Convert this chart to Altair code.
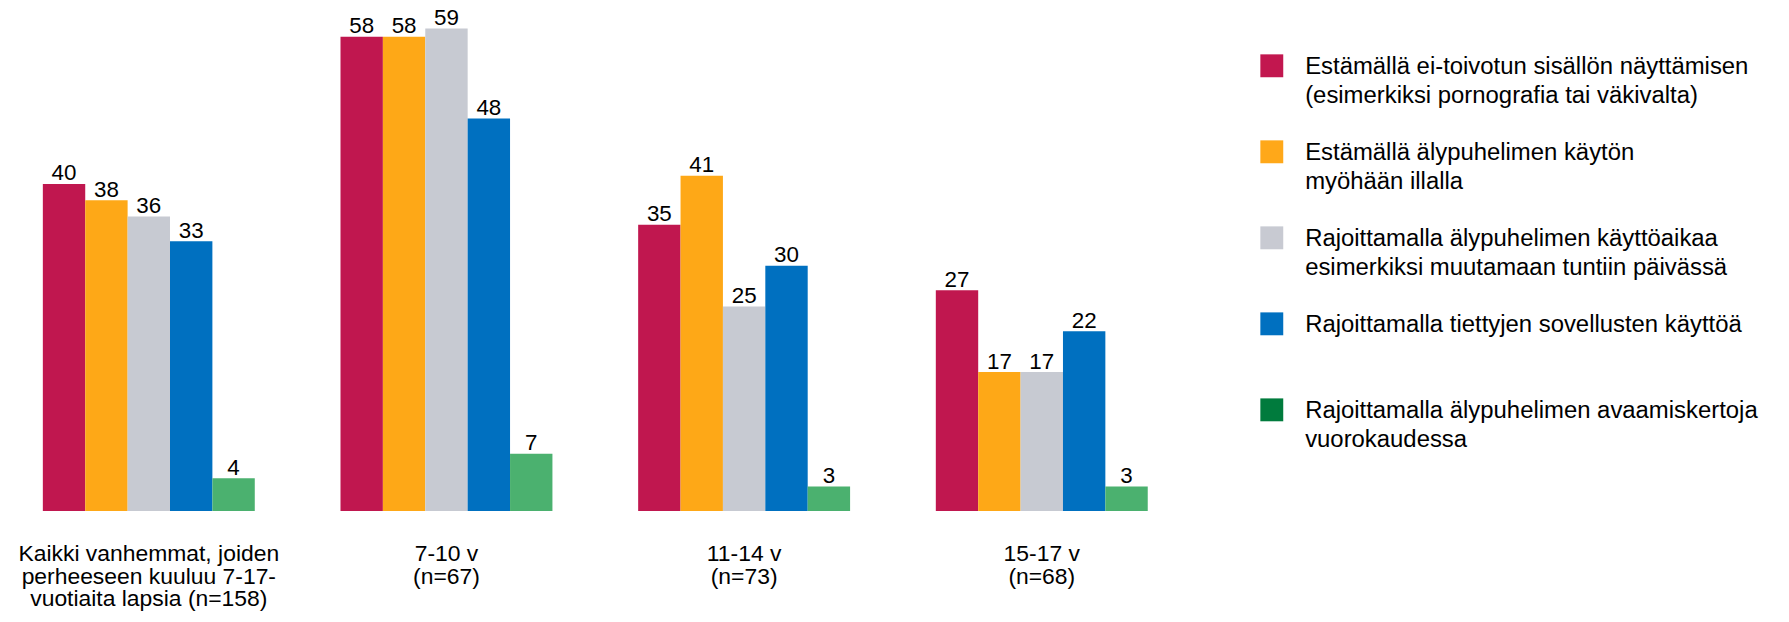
import altair as alt
import pandas as pd

# ---- data ----
categories = [
    "Kaikki vanhemmat, joiden\nperheeseen kuuluu 7-17-\nvuotiaita lapsia (n=158)",
    "7-10 v\n(n=67)",
    "11-14 v\n(n=73)",
    "15-17 v\n(n=68)",
]
series = [
    "Estämällä ei-toivotun sisällön näyttämisen\n(esimerkiksi pornografia tai väkivalta)",
    "Estämällä älypuhelimen käytön\nmyöhään illalla",
    "Rajoittamalla älypuhelimen käyttöaikaa\nesimerkiksi muutamaan tuntiin päivässä",
    "\u00a0Rajoittamalla tiettyjen sovellusten käyttöä",
    "\u00a0Rajoittamalla älypuhelimen avaamiskertoja\nvuorokaudessa",
]
values_s1 = [40, 58, 35, 27]
values_s2 = [38, 58, 41, 17]
values_s3 = [36, 59, 25, 17]
values_s4 = [33, 48, 30, 22]
values_s5 = [4, 7, 3, 3]

bar_colors = ["#C0174F", "#FEA817", "#C7CAD2", "#0070C0", "#4BB16F"]
legend_colors = ["#C2174F", "#FFA819", "#C8CAD2", "#0070C0", "#007B3D"]

rows = []
for s, vals in zip(series, [values_s1, values_s2, values_s3, values_s4, values_s5]):
    for c, v in zip(categories, vals):
        rows.append({"category": c, "series": s, "value": v})
df = pd.DataFrame(rows)
legend_df = pd.DataFrame({"series": series})

FONT = "Liberation Sans"

x_enc = alt.X(
    "category:N",
    sort=categories,
    scale=alt.Scale(paddingInner=0.288, paddingOuter=0.144, align=0),
    axis=alt.Axis(
        title=None,
        labelAngle=0,
        labelFontSize=23,
        labelFont=FONT,
        labelColor="#000000",
        labelLineHeight=22.8,
        labelBaseline="top",
        labelPadding=31.5,
        labelLimit=0,
        ticks=False,
        domain=False,
        labelExpr="split(datum.label, '\\n')",
    ),
)
xoff = alt.XOffset("series:N", sort=series, scale=alt.Scale(paddingInner=0, paddingOuter=0))
y_enc = alt.Y("value:Q", scale=alt.Scale(domain=[0, 60], nice=False, zero=True), axis=None)

bars = alt.Chart(df).mark_bar(strokeWidth=0).encode(
    x=x_enc,
    xOffset=xoff,
    y=y_enc,
    color=alt.Color("series:N", sort=series,
                    scale=alt.Scale(domain=series, range=bar_colors), legend=None),
)

labels = alt.Chart(df).mark_text(
    baseline="alphabetic", dy=-3.5, fontSize=22.5, font=FONT, color="#000000"
).encode(
    x=x_enc,
    xOffset=xoff,
    y=y_enc,
    text=alt.Text("value:Q"),
)

main = alt.layer(bars, labels)

# ---- legend drawn as its own layer ----
leg_y = alt.Y("series:N", sort=series, axis=None,
              scale=alt.Scale(type="point", padding=0.853, align=0.31))

leg_sq = alt.Chart(legend_df).mark_square(size=529, strokeWidth=0, opacity=1).encode(
    x=alt.value(1234.5),
    y=leg_y,
    color=alt.Color("series:N", sort=series,
                    scale=alt.Scale(domain=series, range=legend_colors), legend=None),
)
leg_txt = alt.Chart(legend_df).mark_text(
    align="left", baseline="alphabetic", dy=8.5, fontSize=24, font=FONT,
    color="#000000", lineBreak="\n", lineHeight=28.5,
).encode(
    x=alt.value(1268),
    y=leg_y,
    text="series:N",
)
leg = alt.layer(leg_sq, leg_txt)

chart = (
    alt.layer(main, leg)
    .resolve_scale(y="independent", color="independent")
    .properties(
        width=1196,
        height=493,
        padding={"left": 35, "top": 11, "right": 550, "bottom": 100},
        autosize=alt.AutoSizeParams(type="none"),
    )
    .configure_view(stroke=None)
)

chart.save("out.html", embed_options={"renderer": "svg", "actions": False})
